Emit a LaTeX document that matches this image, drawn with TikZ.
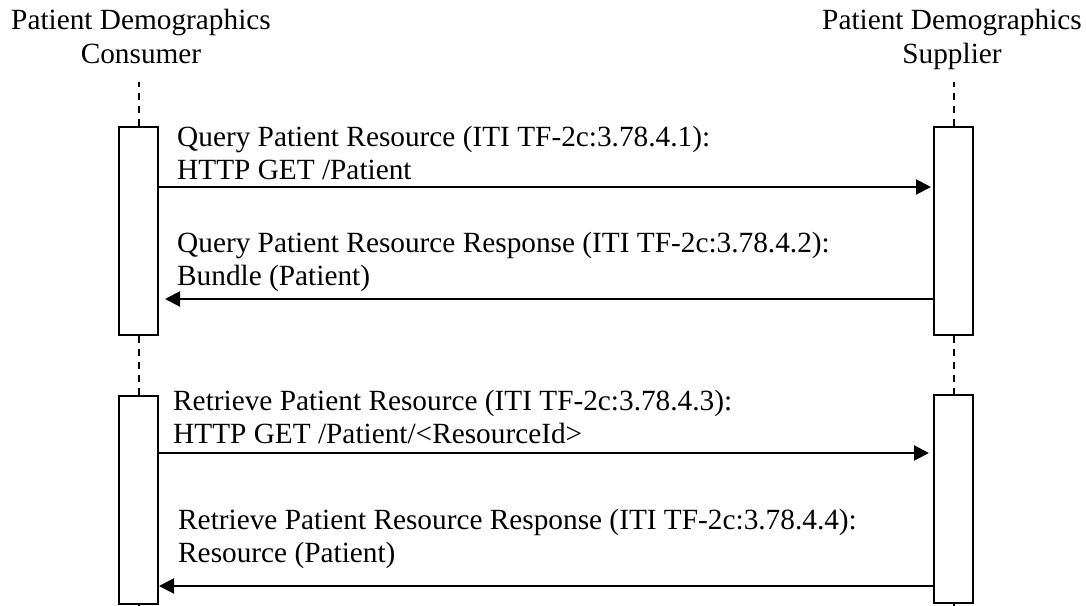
\documentclass[tikz,border=0pt]{standalone}
\usepackage{fontspec}
\setmainfont{Liberation Serif}
\usetikzlibrary{arrows.meta}
\begin{document}
\begin{tikzpicture}[x=1pt,y=-1pt,
  actbox/.style={draw,line width=2pt,fill=white,minimum width=39pt,minimum height=208pt,inner sep=0pt,anchor=north},
  life/.style={line width=2pt,dash pattern=on 7pt off 6pt},
  msg/.style={line width=2pt,-{Triangle[length=15pt,width=15pt]}},
  lbl/.style={font=\fontsize{29.3}{32.5}\selectfont,align=left,inner sep=0pt,anchor=base west},
  head/.style={font=\fontsize{29.3}{34}\selectfont,align=center,inner sep=0pt,anchor=base}]
\useasboundingbox (0,0) rectangle (1086,605);
% heads
\node[head] (cons) at (141,63) {Patient Demographics\\Consumer};
\node[head] (supp) at (952,63) {Patient Demographics\\Supplier};
% activation boxes
\node[actbox] (lb1) at (138.5,126) {};
\node[actbox] (lb2) at (138.5,395) {};
\node[actbox] (rb1) at (953.5,126) {};
\node[actbox] (rb2) at (953.5,394) {};
% lifelines
\draw[life] (lb1.north) -- ++(0,-44);
\draw[life] (lb1.south) -- (lb2.north);
\draw[life] (lb2.south) -- ++(0,10);
\draw[life] (rb1.north) -- ++(0,-44);
\draw[life] (rb1.south) -- (rb2.north);
\draw[life] (rb2.south) -- ++(0,10);
% messages
\draw[msg,shorten >=2pt] (lb1.east |- 0,187) -- (rb1.west |- 0,187);
\draw[msg,shorten >=6pt] (rb1.west |- 0,299) -- (lb1.east |- 0,299);
\draw[msg,shorten >=4pt] (lb2.east |- 0,453) -- (rb2.west |- 0,453);
\draw[msg] (rb2.west |- 0,586) -- (lb2.east |- 0,586);
% labels
\node[lbl] (m1) at (177,179) {Query Patient Resource (ITI TF-2c:3.78.4.1):\\HTTP GET /Patient};
\node[lbl] (m2) at (177,285) {Query Patient Resource Response (ITI TF-2c:3.78.4.2):\\Bundle (Patient)};
\node[lbl] (m3) at (173,443) {Retrieve Patient Resource (ITI TF-2c:3.78.4.3):\\HTTP GET /Patient/<ResourceId>};
\node[lbl] (m4) at (178,562) {Retrieve Patient Resource Response (ITI TF-2c:3.78.4.4):\\Resource (Patient)};
\end{tikzpicture}
\end{document}
